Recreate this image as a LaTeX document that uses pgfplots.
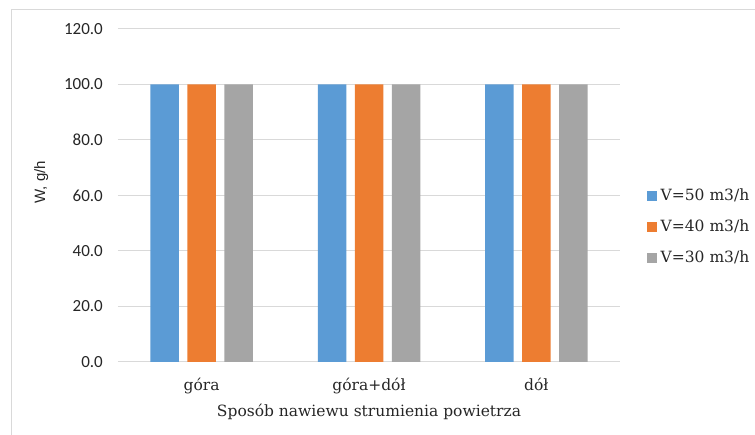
\documentclass[border=0pt]{standalone}
\usepackage{fontspec}
\setmainfont{DejaVu Serif}
\newfontfamily\carl{Carlito}
\newfontfamily\lsans{Liberation Sans}
\usepackage{pgfplots}
\pgfplotsset{compat=1.18}
\definecolor{sBlue}{HTML}{5B9BD5}
\definecolor{sOrange}{HTML}{ED7D31}
\definecolor{sGray}{HTML}{A5A5A5}
\definecolor{gridc}{HTML}{D9D9D9}
\begin{document}
\begin{tikzpicture}
\path[use as bounding box] (0pt,0pt) rectangle (755pt,435pt);
\draw[gridc, line width=1pt] (11pt,-5pt) -- (11pt,425pt) -- (760pt,425pt);
\begin{axis}[
    at={(118pt,73pt)}, anchor=south west,
    scale only axis, width=502pt, height=333pt,
    ybar=8.5pt, bar width=28.5pt,
    xmin=-0.5, xmax=2.5,
    ymin=0, ymax=120,
    xtick={0,1,2},
    xticklabels={góra, góra+dół, dół},
    ytick={0,20,...,120},
    yticklabel style={/pgf/number format/fixed, /pgf/number format/fixed zerofill,
        /pgf/number format/precision=1, /pgf/number format/assume math mode=true,
        font=\carl\fontsize{17}{20}\selectfont, color=black!85, anchor=east, inner sep=0pt, xshift=-15pt},
    xticklabel style={font=\fontsize{15.5}{19}\selectfont, color=black!85, anchor=base, inner sep=0pt, yshift=-29pt},
    major tick length=0pt,
    axis line style={draw=none},
    ymajorgrids, grid style={gridc, line width=1pt},
    xlabel={Sposób nawiewu strumienia powietrza},
    xlabel style={font=\fontsize{15.5}{19}\selectfont, color=black!85, at={(axis description cs:0.5,0)}, anchor=base, inner sep=0pt, yshift=-55pt},
    ylabel={W, g/h},
    ylabel style={font=\lsans\fontsize{15}{18}\selectfont, color=black!85, at={(axis description cs:-0.153,0.54)}, anchor=center, inner sep=0pt},
    legend style={at={(1,0.405)}, anchor=west, xshift=27pt, draw=none, fill=none,
        inner sep=0pt, row sep=15pt,
        font=\fontsize{15.5}{19}\selectfont, text=black!85,
        nodes={inner sep=0pt, text height=12pt, text depth=4pt}},
    legend cell align=left,
    legend image code/.code={\fill[#1] (0pt,-4.5pt) rectangle (9.5pt,5pt); \path (13.5pt,0pt);},
]
\addplot[draw=none, fill=sBlue] coordinates {(0,100) (1,100) (2,100)};
\addplot[draw=none, fill=sOrange] coordinates {(0,100) (1,100) (2,100)};
\addplot[draw=none, fill=sGray] coordinates {(0,100) (1,100) (2,100)};
\legend{V=50 m3/h, V=40 m3/h, V=30 m3/h}
\end{axis}
\end{tikzpicture}
\end{document}
